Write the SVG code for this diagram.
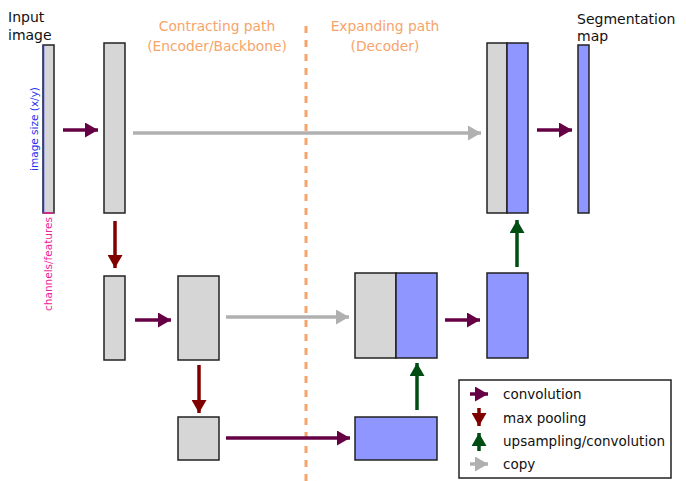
<svg xmlns="http://www.w3.org/2000/svg" width="686" height="481" viewBox="0 0 686 481">
<defs>
<marker id="hConv" markerUnits="userSpaceOnUse" markerWidth="14" markerHeight="15" refX="13" refY="7.5" orient="auto"><path d="M0,0 L13,7.5 L0,15 Z" fill="#660044"/></marker>
<marker id="hPool" markerUnits="userSpaceOnUse" markerWidth="14" markerHeight="15" refX="13" refY="7.5" orient="auto"><path d="M0,0 L13,7.5 L0,15 Z" fill="#800000"/></marker>
<marker id="hUp" markerUnits="userSpaceOnUse" markerWidth="14" markerHeight="15" refX="13" refY="7.5" orient="auto"><path d="M0,0 L13,7.5 L0,15 Z" fill="#004d14"/></marker>
<marker id="hCopy" markerUnits="userSpaceOnUse" markerWidth="14" markerHeight="15" refX="13" refY="7.5" orient="auto"><path d="M0,0 L13,7.5 L0,15 Z" fill="#b0b0b0"/></marker>
</defs>
<style>
text{font-family:"DejaVu Sans",Verdana,sans-serif;font-size:13.5px;fill:#111}
.orange{fill:#f7a46a;font-size:13.8px}
.g{fill:#d6d6d6;stroke:#222;stroke-width:1.5}
.b{fill:#8f96ff;stroke:#222;stroke-width:1.5}
.conv{stroke:#660044;stroke-width:3.5;fill:none;marker-end:url(#hConv)}
.pool{stroke:#800000;stroke-width:3.5;fill:none;marker-end:url(#hPool)}
.up{stroke:#004d14;stroke-width:3.5;fill:none;marker-end:url(#hUp)}
.copy{stroke:#b0b0b0;stroke-width:3.5;fill:none;marker-end:url(#hCopy)}
</style>
<rect width="686" height="481" fill="#fff"/>
<line x1="306" y1="26" x2="306" y2="481" stroke="#f7a46a" stroke-width="3" stroke-dasharray="7,7"/>
<text class="orange" x="217" y="31" text-anchor="middle">Contracting path</text>
<text class="orange" x="217" y="51" text-anchor="middle">(Encoder/Backbone)</text>
<text class="orange" x="385" y="31" text-anchor="middle">Expanding path</text>
<text class="orange" x="385" y="51" text-anchor="middle">(Decoder)</text>
<g id="input">
<text x="8" y="22" style="font-size:14px">Input</text>
<text x="8" y="40" style="font-size:14px">image</text>
<rect class="g" x="43" y="45" width="11" height="168"/>
<line x1="43.5" y1="45" x2="43.5" y2="213" stroke="#2233ee" stroke-width="1.5"/>
<line x1="43" y1="213" x2="54" y2="213" stroke="#ee2299" stroke-width="1.5"/>
<text transform="translate(38,129) rotate(-90)" text-anchor="middle" style="font-size:10.5px;fill:#2233ee">image size (x/y)</text>
<text transform="translate(52,217) rotate(-90)" text-anchor="end" style="font-size:10.5px;fill:#ee2299">channels/features</text>
</g>
<g id="enc1"><rect class="g" x="104" y="43" width="21" height="170"/></g>
<g id="enc2a"><rect class="g" x="104" y="276" width="21" height="84"/></g>
<g id="enc2b"><rect class="g" x="178" y="276" width="41" height="84"/></g>
<g id="bottleneck"><rect class="g" x="178" y="417" width="41" height="43"/></g>
<g id="dec_bottom"><rect class="b" x="355" y="417" width="82" height="43"/></g>
<g id="dec2concat"><rect class="g" x="355" y="273" width="41" height="85"/><rect class="b" x="396" y="273" width="41" height="85"/></g>
<g id="dec2"><rect class="b" x="487" y="273" width="41" height="85"/></g>
<g id="dec1concat"><rect class="g" x="487" y="43" width="20" height="170"/><rect class="b" x="507" y="43" width="21" height="170"/></g>
<g id="output">
<rect class="b" x="578" y="45" width="11" height="168"/>
<text x="577" y="24" style="font-size:14px">Segmentation</text>
<text x="577" y="41" style="font-size:14px">map</text>
</g>
<g id="connectors">
<line class="conv" x1="63" y1="130" x2="98" y2="130"/>
<line class="copy" x1="133" y1="133" x2="481" y2="133"/>
<line class="conv" x1="537" y1="130" x2="572" y2="130"/>
<line class="pool" x1="115" y1="221" x2="115" y2="268"/>
<line class="conv" x1="135" y1="320" x2="171" y2="320"/>
<line class="copy" x1="226" y1="317" x2="349" y2="317"/>
<line class="pool" x1="199" y1="365" x2="199" y2="413"/>
<line class="conv" x1="226" y1="438" x2="350" y2="438"/>
<line class="up" x1="417" y1="410" x2="417" y2="363"/>
<line class="conv" x1="445" y1="320" x2="480" y2="320"/>
<line class="up" x1="517" y1="267" x2="517" y2="220"/>
</g>
<g id="legend">
<rect x="459" y="380" width="212" height="98" fill="#fff" stroke="#222" stroke-width="1.5"/>
<line class="conv" x1="470" y1="394" x2="488" y2="394"/>
<text x="503" y="399">convolution</text>
<line class="pool" x1="479" y1="408" x2="479" y2="426"/>
<text x="503" y="423">max pooling</text>
<line class="up" x1="479" y1="451" x2="479" y2="433"/>
<text x="503" y="446">upsampling/convolution</text>
<line class="copy" x1="470" y1="464" x2="488" y2="464"/>
<text x="503" y="469">copy</text>
</g>
</svg>
